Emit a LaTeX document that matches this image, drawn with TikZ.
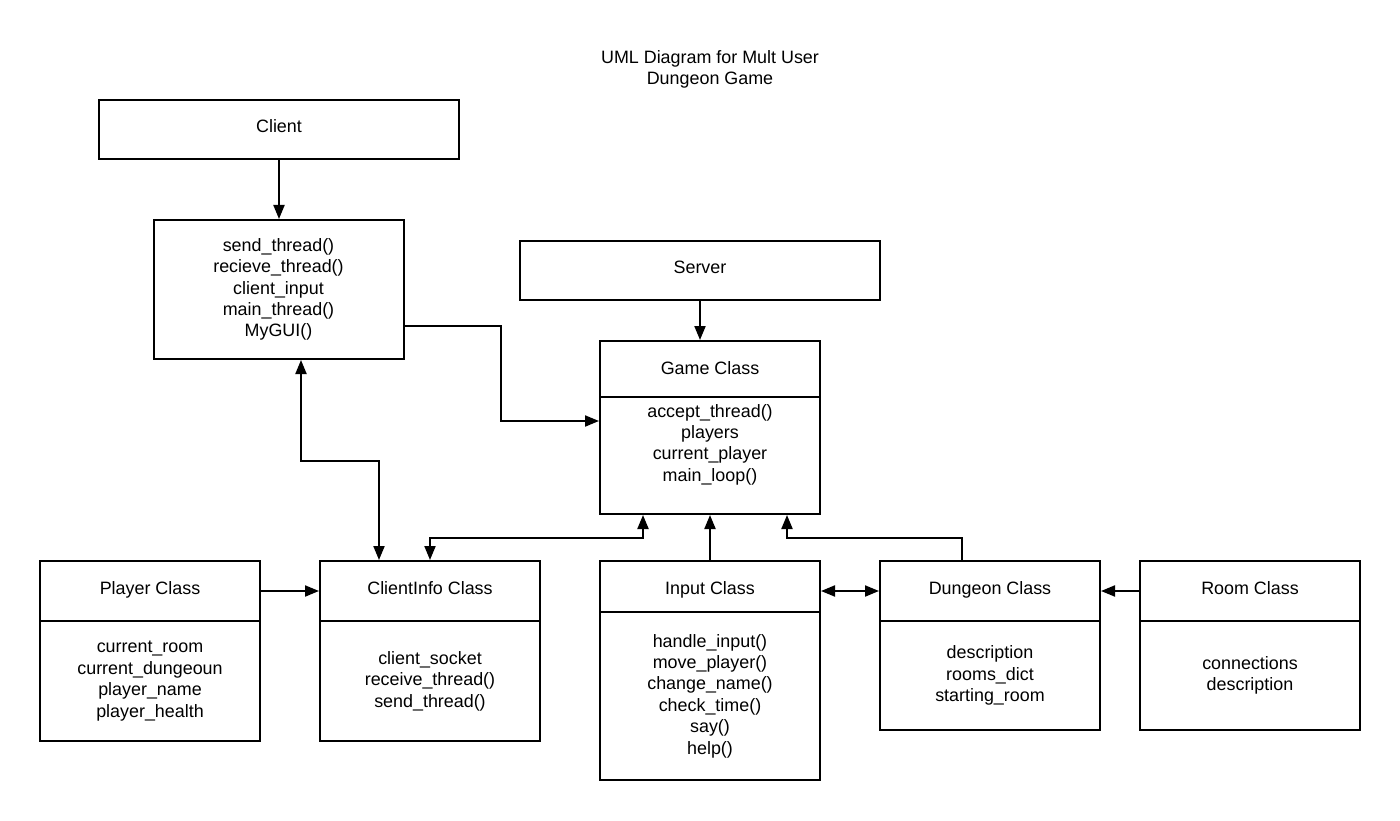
\documentclass[tikz,border=0pt]{standalone}
\usepackage{fontspec}
\setmainfont{Liberation Sans}
\usetikzlibrary{arrows.meta}
\begin{document}
\begin{tikzpicture}[x=1pt,y=-1pt,
  box/.style={draw=black,line width=2pt,inner sep=0pt,align=center,
    font=\fontsize{17.9}{21.4}\selectfont},
  head/.style={box,text height=12.5pt,text depth=6pt},
  txt/.style={inner sep=0pt,align=center,font=\fontsize{17.9}{21.4}\selectfont},
  arr/.style={line width=2pt,-{Triangle[length=14pt,width=11pt]}},
  darr/.style={line width=2pt,{Triangle[length=14pt,width=11pt]}-{Triangle[length=14pt,width=11pt]}}]
\fill[white] (0,0) rectangle (1400,821);
\useasboundingbox (0,0) rectangle (1400,821);
\node[txt] (title) at (710,69.5) {UML Diagram for Mult User\\Dungeon Game};
% Client
\node[head,minimum width=360pt,minimum height=59pt] (clientT) at (279,129.5) {Client};
\node[box,minimum width=250pt,minimum height=139pt] (clientM) at (278.5,289.5)
  {send\_thread()\\recieve\_thread()\\client\_input\\main\_thread()\\MyGUI()};
% Server
\node[head,minimum width=360pt,minimum height=59pt] (server) at (700,270.5) {Server};
% Game
\node[head,text depth=2pt,minimum width=220pt,minimum height=56pt] (gameH) at (710,369) {Game Class};
\node[box,minimum width=220pt,minimum height=117pt] (gameB) at (710,455.5) {};
\node[txt,anchor=north] (gameT) at ([yshift=-8pt]gameB.north)
  {accept\_thread()\\players\\current\_player\\main\_loop()};
% Player
\node[head,minimum width=220pt,minimum height=60pt] (playerH) at (150,591) {Player Class};
\node[box,minimum width=220pt,minimum height=120pt] (playerB) at (150,681)
  {current\_room\\current\_dungeoun\\player\_name\\player\_health};
% ClientInfo
\node[head,minimum width=220pt,minimum height=60pt] (ciH) at (430,591) {ClientInfo Class};
\node[box,minimum width=220pt,minimum height=120pt] (ciB) at (430,681)
  {client\_socket\\receive\_thread()\\send\_thread()};
% Input
\node[head,text height=15.4pt,text depth=0pt,minimum width=220pt,minimum height=51pt] (inputH) at (710,586.5) {Input Class};
\node[box,minimum width=220pt,minimum height=168pt] (inputB) at (710,696)
  {handle\_input()\\move\_player()\\change\_name()\\check\_time()\\say()\\help()};
% Dungeon
\node[head,minimum width=220pt,minimum height=60pt] (dunH) at (990,591) {Dungeon Class};
\node[box,minimum width=220pt,minimum height=109pt] (dunB) at (990,675.5)
  {description\\rooms\_dict\\starting\_room};
% Room
\node[head,minimum width=220pt,minimum height=60pt] (roomH) at (1250,591) {Room Class};
\node[box,minimum width=220pt,minimum height=109pt] (roomB) at (1250,675.5)
  {connections\\description};
% helper coordinates
\coordinate (c0) at (501,326);
\coordinate (c0b) at (501,421);
\coordinate (c1) at (301,461);
\coordinate (c2) at (379,461);
\coordinate (c3) at (643,538);
\coordinate (c4) at (430,538);
\coordinate (c5) at (962,538);
\coordinate (c6) at (787,538);
% connectors
\draw[arr] (clientT.south) -- (clientT.south |- clientM.north);
\draw[arr] (clientM.east |- c0) -- (c0) -- (c0b) -- (gameB.west |- c0b);
\draw[darr] (c1 |- clientM.south) -- (c1) -- (c2) -- (c2 |- ciH.north);
\draw[darr] (c3 |- gameB.south) -- (c3) -- (c4) -- (c4 |- ciH.north);
\draw[arr] (server.south) -- (server.south |- gameH.north);
\draw[arr] (inputH.north) -- (inputH.north |- gameB.south);
\draw[arr] (c5 |- dunH.north) -- (c5) -- (c6) -- (c6 |- gameB.south);
\draw[darr] (inputH.east |- dunH.west) -- (dunH.west);
\draw[arr] (roomH.west) -- (dunH.east);
\draw[arr] (playerH.east) -- (ciH.west);
\end{tikzpicture}
\end{document}
